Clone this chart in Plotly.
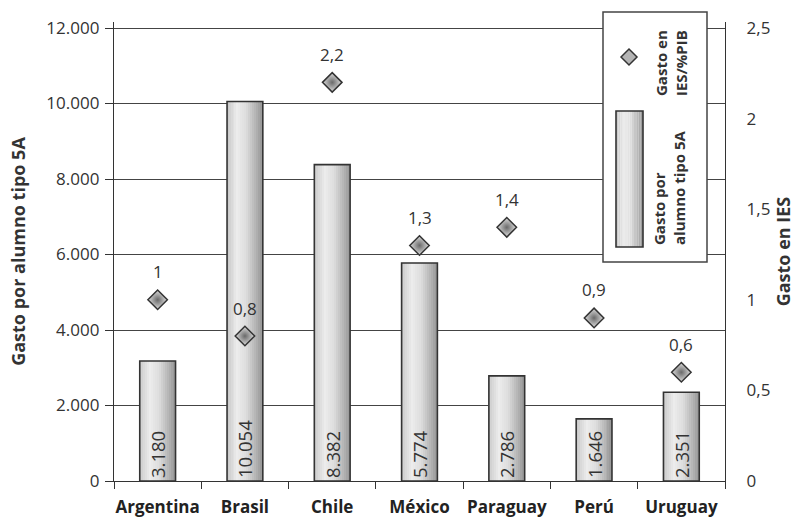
import plotly.graph_objects as go

# ---- data ----
paises = ["Argentina", "Brasil", "Chile", "México", "Paraguay", "Perú", "Uruguay"]
gasto_alumno = [3180, 10054, 8382, 5774, 2786, 1646, 2351]      # Gasto por alumno tipo 5A
gasto_pib = [1.0, 0.8, 2.2, 1.3, 1.4, 0.9, 0.6]                  # Gasto en IES / %PIB

etiquetas_alumno = [f"{v:,}".replace(",", ".") for v in gasto_alumno]
etiquetas_pib = [f"{v:g}".replace(".", ",") for v in gasto_pib]

# ---- geometry / style ----
W, H = 799, 523
ML, MR, MT, MB = 114, 74, 22, 42
PW, PH = W - ML - MR, H - MT - MB
Y_TOP = 12000 * PH / (PH - 6)          # axis lines run a little above 12.000
Y2_TOP = 2.5 * Y_TOP / 12000
FONT = "Open Sans"
INK = "#333333"
BAR_W = 0.41
N_STRIPS = 18

STOPS = [(0.0, (200, 200, 200)), (0.3, (236, 236, 236)), (0.55, (222, 222, 222)),
         (0.85, (176, 176, 176)), (1.0, (150, 150, 150))]


def shade(t):
    for (t0, c0), (t1, c1) in zip(STOPS[:-1], STOPS[1:]):
        if t <= t1:
            f = (t - t0) / (t1 - t0)
            r, g, b = (round(a + (bb - a) * f) for a, bb in zip(c0, c1))
            return f"rgb({r},{g},{b})"
    return "rgb(150,150,150)"


def px(x):
    return (x - ML) / PW


def py(y):
    return (MT + PH - y) / PH


fig = go.Figure()

# bars: cylinder-like shading built from thin overlaid strips
for j in range(N_STRIPS):
    fig.add_bar(x=paises, y=gasto_alumno, width=BAR_W / N_STRIPS,
                offset=-BAR_W / 2 + j * BAR_W / N_STRIPS,
                marker=dict(color=shade((j + 0.5) / N_STRIPS), line=dict(width=0)),
                hoverinfo="skip", showlegend=False)

# bar outlines with value labels
fig.add_bar(x=paises, y=gasto_alumno, width=BAR_W, name="Gasto por alumno tipo 5A",
            marker=dict(color="rgba(0,0,0,0)", line=dict(color=INK, width=1.6)),
            text=etiquetas_alumno, textposition="inside", insidetextanchor="start",
            textangle=-90, constraintext="none",
            textfont=dict(family=FONT, size=18.5, color=INK), showlegend=False)

DIAMOND = dict(symbol="diamond", size=15, color="#dedede",
               gradient=dict(type="radial", color="#6a6a6a"),
               line=dict(color=INK, width=1.5))

fig.add_scatter(x=paises, y=gasto_pib, yaxis="y2", mode="markers",
                name="Gasto en IES/%PIB", marker=DIAMOND, showlegend=False)

for p, v, t in zip(paises, gasto_pib, etiquetas_pib):
    fig.add_annotation(x=p, y=v, xref="x", yref="y2", text=t, showarrow=False,
                       yshift=28, font=dict(family=FONT, size=17, color=INK))

# ---- legend (vertical text) ----
fig.add_shape(type="rect", xref="paper", yref="paper",
              x0=px(603), x1=px(707), y0=py(262), y1=py(12),
              line=dict(color="#444444", width=1.5), fillcolor="white", layer="above")
KX0, KX1, KY0, KY1 = 616, 643, 111, 247
n_key = 12
for j in range(n_key):
    a = KX0 + (KX1 - KX0) * j / n_key
    b = KX0 + (KX1 - KX0) * (j + 1) / n_key
    fig.add_shape(type="rect", xref="paper", yref="paper",
                  x0=px(a), x1=px(b), y0=py(KY1), y1=py(KY0),
                  line=dict(width=0), fillcolor=shade((j + 0.5) / n_key), layer="above")
fig.add_shape(type="rect", xref="paper", yref="paper",
              x0=px(KX0), x1=px(KX1), y0=py(KY1), y1=py(KY0),
              line=dict(color=INK, width=1.6), fillcolor="rgba(0,0,0,0)", layer="above")
DX, DY, DR = 629, 57, 8
fig.add_shape(type="path", xref="paper", yref="paper",
              path=(f"M {px(DX - DR)},{py(DY)} L {px(DX)},{py(DY - DR)} "
                    f"L {px(DX + DR)},{py(DY)} L {px(DX)},{py(DY + DR)} Z"),
              line=dict(color=INK, width=1.5), fillcolor="#b4b4b4", layer="above")
fig.add_annotation(xref="paper", yref="paper", x=px(671), y=py(63),
                   text="Gasto en<br>IES/%PIB", textangle=-90, align="left",
                   showarrow=False, xanchor="center", yanchor="middle",
                   font=dict(family=FONT, size=15, color=INK, weight="bold"))
fig.add_annotation(xref="paper", yref="paper", x=px(669), y=py(188),
                   text="Gasto por<br>alumno tipo 5A", textangle=-90, align="left",
                   showarrow=False, xanchor="center", yanchor="middle",
                   font=dict(family=FONT, size=15, color=INK, weight="bold"))

fig.update_layout(
    width=W, height=H,
    margin=dict(l=ML, r=MR, t=MT, b=MB, pad=0),
    paper_bgcolor="white", plot_bgcolor="white",
    barmode="overlay", separators=",.",
    font=dict(family=FONT, size=17, color=INK),
    showlegend=False,
    xaxis=dict(type="category", range=[-0.5, 6.5], showline=True, linecolor=INK,
               linewidth=1.3, ticks="outside", tickson="boundaries", ticklen=7,
               tickcolor=INK, showgrid=False, tickangle=0, automargin=False,
               ticklabelstandoff=10,
               tickfont=dict(family=FONT, size=17, color="#222222", weight="bold")),
    yaxis=dict(range=[0, Y_TOP], dtick=2000, tick0=0, tickformat=",d",
               showgrid=True, gridcolor="#444444", gridwidth=1.3, zeroline=False,
               showline=True, linecolor=INK, linewidth=1.3, ticks="outside",
               ticklen=8, tickcolor=INK, ticklabelstandoff=2, automargin=False,
               tickfont=dict(family=FONT, size=17, color=INK),
               title=dict(text="Gasto por alumno tipo 5A", standoff=16,
                          font=dict(family=FONT, size=18, color=INK, weight="bold"))),
    yaxis2=dict(overlaying="y", side="right", range=[0, Y2_TOP], dtick=0.5, tick0=0,
                showgrid=False, zeroline=False, showline=True, linecolor=INK,
                linewidth=1.3, ticks="", ticklabelstandoff=17, automargin=False,
                tickfont=dict(family=FONT, size=17, color=INK),
                title=dict(text="Gasto en IES", standoff=8,
                           font=dict(family=FONT, size=18, color=INK, weight="bold"))),
    yaxis3=dict(overlaying="y", side="right", range=[0, Y_TOP], dtick=2000, tick0=0,
                showgrid=False, zeroline=False, showline=False, showticklabels=False,
                ticks="outside", ticklen=7, tickcolor=INK, automargin=False),
)

fig.write_html("out.html")
